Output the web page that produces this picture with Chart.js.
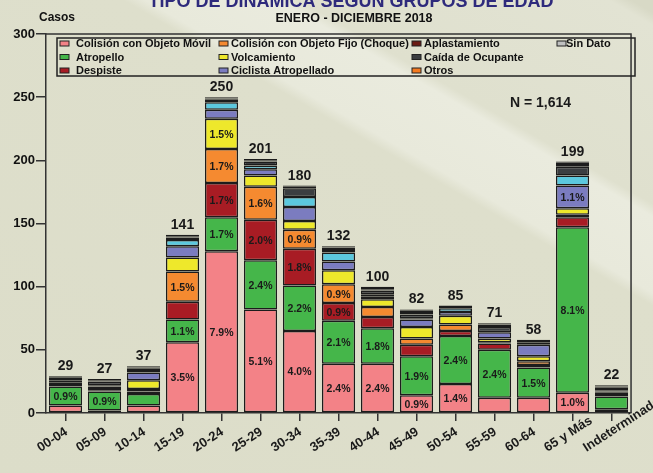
<!DOCTYPE html>
<html>
<head>
<meta charset="utf-8">
<script src="https://cdn.jsdelivr.net/npm/chart.js@4/dist/chart.umd.min.js"></script>
<style>
html,body{margin:0;padding:0;}
body{width:653px;height:473px;overflow:hidden;
background:linear-gradient(30deg,#DCDDC9 0%,#DEDFCC 64%,#E8E9DB 65.5%,#EAEBDE 74.5%,#DFE0CE 76%,#E2E3D3 97%,#D8D9C6 98.5%);}
canvas{display:block;}
</style>
</head>
<body>
<canvas id="c" width="653" height="473"></canvas>
<script>
const categories = ['00-04','05-09','10-14','15-19','20-24','25-29','30-34','35-39','40-44','45-49','50-54','55-59','60-64','65 y Más','Indeterminado'];
const totals = [29,27,37,141,250,201,180,132,100,82,85,71,58,199,22];
const totalN = '1,614';

const colisionMovil  = [6, 2, 6, 56,128, 82, 65, 39, 39, 14, 23, 12, 12, 16, 3];
const atropello      = [15,15, 9, 18, 27, 39, 36, 34, 28, 31, 38, 38, 24,131,10];
const despiste       = [2, 1, 2, 14, 27, 32, 29, 14,  9,  9,  4,  5,  2,  8, 2];
const choque         = [1, 1, 2, 24, 27, 26, 15, 15,  8,  5,  5,  1,  3,  2, 1];
const volcamiento    = [2, 2, 7, 11, 24,  9,  7, 11,  6,  9,  7,  3,  4,  5, 1];
const ciclista       = [0, 1, 6,  9,  7,  5, 11,  7,  2,  6,  3,  5,  9, 18, 1];
const otraCategoria  = [1, 0, 0,  5,  6,  3,  8,  7,  2,  1,  3,  0,  0,  8, 0];
const caidaOcupante  = [1, 3, 2,  2,  2,  3,  7,  2,  3,  3,  1,  4,  2,  7, 2];
const aplastamiento  = [1, 1, 1,  1,  1,  1,  1,  2,  1,  2,  1,  2,  1,  2, 1];
const otros          = [0, 1, 1,  1,  1,  1,  1,  1,  1,  1,  0,  1,  1,  1, 1];
const sinDato        = [0, 0, 1,  0,  0,  0,  0,  0,  1,  1,  0,  0,  0,  1, 0];

const pctColisionMovil = ['','','','3.5%','7.9%','5.1%','4.0%','2.4%','2.4%','0.9%','1.4%','','','1.0%',''];
const pctAtropello     = ['0.9%','0.9%','','1.1%','1.7%','2.4%','2.2%','2.1%','1.8%','1.9%','2.4%','2.4%','1.5%','8.1%',''];
const pctDespiste      = ['','','','','1.7%','2.0%','1.8%','0.9%','','','','','','',''];
const pctChoque        = ['','','','1.5%','1.7%','1.6%','0.9%','0.9%','','','','','','',''];
const pctVolcamiento   = ['','','','','1.5%','','','','','','','','','',''];
const pctCiclista      = ['','','','','','','','','','','','','','1.1%',''];

const FONT = "Arial, 'Liberation Sans', sans-serif";
const BORDER = '#1c1c1c';

function ds(label, data, color, pct, inLegend){
  return {label, data, backgroundColor: color, borderColor: BORDER, borderWidth: 1.5,
    borderSkipped: false, pct: pct || null, inLegend: inLegend !== false,
    categoryPercentage: 1, barPercentage: 0.85};
}

const datasets = [
  ds('Colisión con Objeto Móvil', colisionMovil, '#F38287', pctColisionMovil),
  ds('Atropello', atropello, '#45B64A', pctAtropello),
  ds('Despiste', despiste, '#A81C24', pctDespiste),
  ds('Colisión con Objeto Fijo (Choque)', choque, '#F58A30', pctChoque),
  ds('Volcamiento', volcamiento, '#EEE82B', pctVolcamiento),
  ds('Ciclista Atropellado', ciclista, '#7B7CC0', pctCiclista),
  ds('', otraCategoria, '#5CC8DE', null, false),
  ds('Caída de Ocupante', caidaOcupante, '#3B3E41'),
  ds('Aplastamiento', aplastamiento, '#6B1B14'),
  ds('Otros', otros, '#F47A20'),
  ds('Sin Dato', sinDato, '#BFC0C0')
];

const legendOrder = [
  ['Colisión con Objeto Móvil','Atropello','Despiste'],
  ['Colisión con Objeto Fijo (Choque)','Volcamiento','Ciclista Atropellado'],
  ['Aplastamiento','Caída de Ocupante','Otros'],
  ['Sin Dato']
];

const decor = {
  id: 'decor',
  afterDraw(chart){
    const ctx = chart.ctx, a = chart.chartArea;
    const xs = chart.scales.x, ys = chart.scales.y;
    ctx.save();
    ctx.strokeStyle = '#333'; ctx.lineWidth = 1.5;
    ctx.beginPath();
    ctx.moveTo(a.left, a.top); ctx.lineTo(a.right, a.top); ctx.lineTo(a.right, a.bottom);
    ctx.stroke();

    ctx.fillStyle = '#2E2A7C';
    ctx.font = 'bold 18px ' + FONT; ctx.textAlign = 'center'; ctx.textBaseline = 'alphabetic';
    ctx.fillText('TIPO DE DINÁMICA SEGÚN GRUPOS DE EDAD', 351, 7);
    ctx.fillStyle = '#111';
    ctx.font = 'bold 12.5px ' + FONT;
    ctx.fillText('ENERO - DICIEMBRE 2018', 354, 22);
    ctx.textAlign = 'left';
    ctx.font = 'bold 12px ' + FONT;
    ctx.fillText('Casos', 39, 21);

    const lx = 57, ly = 38, lw = 578, lh = 38;
    ctx.strokeStyle = '#222'; ctx.lineWidth = 1.5;
    ctx.strokeRect(lx, ly, lw, lh);
    const colSw = [60, 219, 412, 557];
    const colTx = [76, 231, 424, 566];
    const rowY = [43.5, 57, 70.5];
    ctx.font = 'bold 11px ' + FONT; ctx.textBaseline = 'middle';
    legendOrder.forEach((col, ci) => {
      col.forEach((name, ri) => {
        const d = chart.data.datasets.find(s => s.label === name && s.inLegend);
        if (!d) return;
        const y = rowY[ri];
        ctx.fillStyle = d.backgroundColor;
        ctx.fillRect(colSw[ci], y - 2.5, 9, 5);
        ctx.strokeStyle = '#222'; ctx.lineWidth = 1;
        ctx.strokeRect(colSw[ci], y - 2.5, 9, 5);
        ctx.fillStyle = '#111';
        ctx.fillText(d.label, colTx[ci], y + 0.5);
      });
    });

    ctx.font = 'bold 10.5px ' + FONT; ctx.textAlign = 'center'; ctx.textBaseline = 'middle';
    ctx.fillStyle = '#1a1a1a';
    chart.data.datasets.forEach((d, di) => {
      if (!d.pct) return;
      const meta = chart.getDatasetMeta(di);
      meta.data.forEach((el, i) => {
        const t = d.pct[i];
        if (!t) return;
        ctx.fillText(t, el.x, (el.y + el.base) / 2 + 1);
      });
    });

    ctx.font = 'bold 14px ' + FONT; ctx.textBaseline = 'alphabetic';
    totals.forEach((t, i) => {
      ctx.fillText(String(t), xs.getPixelForValue(i), ys.getPixelForValue(t) - 6);
    });

    ctx.textAlign = 'left';
    ctx.fillText('N = ' + totalN, 510, 107);

    ctx.font = 'bold 13px ' + FONT; ctx.textAlign = 'left'; ctx.textBaseline = 'alphabetic';
    categories.forEach((c, i) => {
      const x = xs.getPixelForValue(i);
      ctx.save();
      ctx.translate(x - 25, a.bottom + 39);
      ctx.rotate(-33 * Math.PI / 180);
      ctx.fillText(c, 0, 0);
      ctx.restore();
    });
    ctx.restore();
  }
};

new Chart(document.getElementById('c'), {
  type: 'bar',
  data: { labels: categories, datasets },
  options: {
    responsive: false,
    animation: false,
    layout: { padding: { top: 34, right: 3, left: 0, bottom: 0 } },
    plugins: { legend: { display: false }, tooltip: { enabled: false }, title: { display: false } },
    scales: {
      x: {
        stacked: true,
        grid: { display: true, drawOnChartArea: false, drawTicks: true, tickLength: 8, color: '#333', lineWidth: 1.5, offset: false },
        border: { display: true, color: '#333', width: 1.5 },
        ticks: { color: 'rgba(0,0,0,0)', maxRotation: 0, minRotation: 0, autoSkip: false },
        afterFit(s){ s.height = 60; }
      },
      y: {
        stacked: true, min: 0, max: 300,
        grid: { display: true, drawOnChartArea: false, drawTicks: true, tickLength: 10, color: '#333', lineWidth: 1.5 },
        border: { display: true, color: '#333', width: 1.5 },
        ticks: { stepSize: 50, color: '#111', padding: 1, font: { family: FONT, size: 13, weight: 'bold' } },
        afterFit(s){ s.width = 46; }
      }
    }
  },
  plugins: [decor]
});
</script>
</body>
</html>
